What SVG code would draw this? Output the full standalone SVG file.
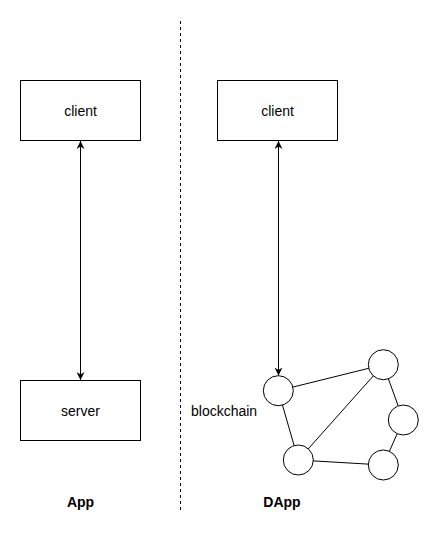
<svg xmlns="http://www.w3.org/2000/svg" width="439" height="533" viewBox="0 0 439 533">
<style>
.box{fill:#fff;stroke:#000;stroke-width:1}
.peer{fill:#fff;stroke:#000;stroke-width:1}
.lbl{font-family:"Liberation Sans",Arial,sans-serif;font-size:14px;fill:#000}
.title{font-family:"Liberation Sans",Arial,sans-serif;font-size:14px;font-weight:bold;fill:#000}
.conn{stroke:#000;stroke-width:1;fill:none}
</style>
<defs>
<marker id="ah" viewBox="0 0 10 10" refX="10" refY="5" markerWidth="8" markerHeight="8" markerUnits="userSpaceOnUse" orient="auto-start-reverse">
<path d="M0,0 L10,5 L0,10 L3,5 Z" fill="#000"/>
</marker>
</defs>
<rect width="439" height="533" fill="#fff"/>
<g id="divider">
<line x1="180.5" y1="21" x2="180.5" y2="510" stroke="#000" stroke-width="1" stroke-dasharray="3 3"/>
</g>
<g id="connectors">
<line class="conn" x1="80.5" y1="141" x2="80.5" y2="380" marker-start="url(#ah)" marker-end="url(#ah)"/>
<line class="conn" x1="278.5" y1="141" x2="278.5" y2="375.5" marker-start="url(#ah)" marker-end="url(#ah)"/>
<line class="conn" x1="278.3" y1="390.7" x2="383.3" y2="364.7"/>
<line class="conn" x1="278.3" y1="390.7" x2="298.3" y2="460"/>
<line class="conn" x1="383.3" y1="364.7" x2="403.3" y2="420"/>
<line class="conn" x1="383.3" y1="364.7" x2="298.3" y2="460"/>
<line class="conn" x1="403.3" y1="420" x2="383.3" y2="465"/>
<line class="conn" x1="298.3" y1="460" x2="383.3" y2="465"/>
</g>
<g id="client-app">
<rect class="box" x="20.5" y="80.5" width="120" height="60"/>
<text class="lbl" x="80.5" y="115.5" text-anchor="middle">client</text>
</g>
<g id="server">
<rect class="box" x="20.5" y="380.5" width="120" height="60"/>
<text class="lbl" x="80.5" y="415.5" text-anchor="middle">server</text>
</g>
<g id="client-dapp">
<rect class="box" x="217.5" y="80.5" width="120" height="60"/>
<text class="lbl" x="277.5" y="115.5" text-anchor="middle">client</text>
</g>
<g id="blockchain">
<circle class="peer" cx="278.3" cy="390.7" r="15"/>
<circle class="peer" cx="383.3" cy="364.7" r="15"/>
<circle class="peer" cx="403.3" cy="420" r="15"/>
<circle class="peer" cx="298.3" cy="460" r="15"/>
<circle class="peer" cx="383.3" cy="465" r="15"/>
<text class="lbl" x="191" y="415.7">blockchain</text>
</g>
<g id="label-app">
<text class="title" x="80.5" y="506.5" text-anchor="middle">App</text>
</g>
<g id="label-dapp">
<text class="title" x="282" y="506.5" text-anchor="middle">DApp</text>
</g>
</svg>
